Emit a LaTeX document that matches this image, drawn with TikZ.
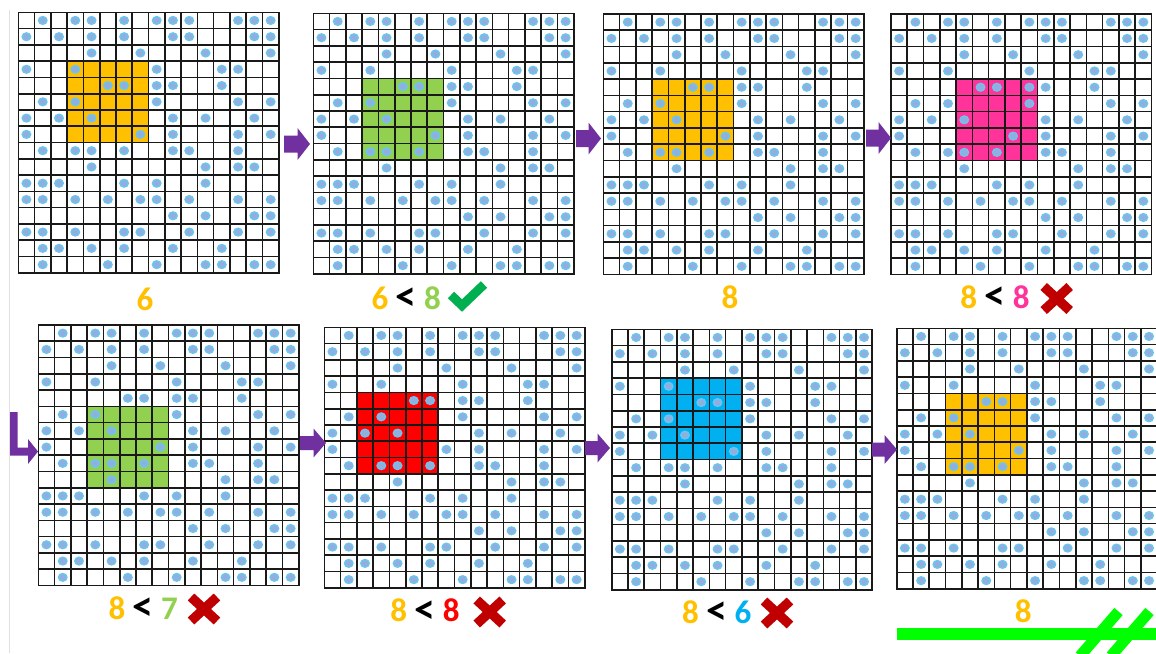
\documentclass[tikz,border=0pt]{standalone}
\usepackage{fontspec}
\setmainfont{Carlito}
\definecolor{gorange}{HTML}{FFC000}
\definecolor{glight}{HTML}{92D050}
\definecolor{gpink}{HTML}{FF3399}
\definecolor{gred}{HTML}{FF0000}
\definecolor{gblue}{HTML}{00B0F0}
\definecolor{apurple}{HTML}{7030A0}
\definecolor{okgreen}{HTML}{00B050}
\definecolor{xred}{HTML}{C00000}
\definecolor{limebar}{HTML}{00FF00}
\definecolor{dotfill}{HTML}{93AEDC}
\definecolor{dotring}{HTML}{6CC5F0}
\def\cellsz{16.28}
\def\dotlist{1/0,3/0,4/0,6/0,8/0,9/0,10/0,13/0,14/0,15/0,%
0/1,2/1,4/1,6/1,9/1,10/1,14/1,15/1,%
4/2,7/2,11/2,15/2,%
0/3,3/3,8/3,12/3,13/3,%
5/4,6/4,8/4,9/4,12/4,%
1/5,3/5,8/5,13/5,15/5,%
0/6,2/6,4/6,9/6,11/6,14/6,%
0/7,7/7,9/7,13/7,15/7,%
1/8,3/8,4/8,6/8,9/8,10/8,13/8,%
4/9,11/9,13/9,14/9,%
0/10,1/10,2/10,6/10,8/10,11/10,%
0/11,1/11,3/11,5/11,7/11,8/11,10/11,13/11,15/11,%
9/12,11/12,14/12,15/12,%
0/13,1/13,3/13,6/13,7/13,10/13,13/13,15/13,%
1/14,2/14,4/14,6/14,9/14,12/14,%
1/15,5/15,8/15,11/15,12/15,14/15,15/15}
\tikzset{
  gridline/.style={black!90, line width=1.6pt, line cap=rect},
  dotmark/.style={fill=dotfill, draw=dotring, line width=1.5pt},
  gridbox/.style={rectangle, inner sep=0pt, minimum size=260.5pt},
  lbl/.style={font=\fontsize{33}{33}\selectfont\bfseries, inner sep=0pt, anchor=base},
  okmark/.style={okgreen, line width=9pt, line join=miter},
  xm/.style={xred, line width=9.5pt},
  arrowfill/.style={fill=apurple},
}
\newcommand\lt{{\fontsize{42}{42}\selectfont\raisebox{-1.5pt}{<}}}
\newcommand\drawgrid[6]{%
\begin{scope}[shift={(#2,#3)}]
\fill[#4] ({#5*\cellsz},{#6*\cellsz}) rectangle ++({5*\cellsz},{5*\cellsz});
\foreach \k in {0,...,16}{%
  \draw[gridline] ({\k*\cellsz},0) -- ({\k*\cellsz},{16*\cellsz});
  \draw[gridline] (0,{\k*\cellsz}) -- ({16*\cellsz},{\k*\cellsz});}
\foreach \c/\r in \dotlist {%
  \filldraw[dotmark] ({(\c+0.5)*\cellsz},{(\r+0.5)*\cellsz}) ellipse [x radius=4.2pt, y radius=3.8pt];}
\node[gridbox] (#1) at ({8*\cellsz},{8*\cellsz}) {};
\end{scope}}
\newcommand\barrow[6]{%
\fill[arrowfill] (#1,{#2-#4}) -- ({#3-#6},{#2-#4}) -- ({#3-#6},{#2-#5}) -- (#3,#2) -- ({#3-#6},{#2+#5}) -- ({#3-#6},{#2+#4}) -- (#1,{#2+#4}) -- cycle;}
\newcommand\xmk[2]{%
\draw[xm] ({#1-13},{#2-12}) -- ({#1+13},{#2+12}) ({#1-13},{#2+12}) -- ({#1+13},{#2-12});}
\begin{document}
\begin{tikzpicture}[x=1pt,y=-1pt]
\useasboundingbox (0,0) rectangle (1156,653);
\fill[white] (0,0) rectangle (1156,653);
\draw[black!12, line width=0.8pt] (9,10) -- (9,653);
% grids
\drawgrid{g1}{18.3}{12.3}{gorange}{3}{3}
\drawgrid{g2}{313.3}{13.3}{glight}{3}{4}
\drawgrid{g3}{603.3}{14}{gorange}{3}{4}
\drawgrid{g4}{891}{14}{gpink}{4}{4}
\drawgrid{g5}{38.3}{325}{glight}{3}{5}
\drawgrid{g6}{324.3}{327.3}{gred}{2}{4}
\drawgrid{g7}{611.7}{329.3}{gblue}{3}{3}
\drawgrid{g8}{896.7}{328.3}{gorange}{3}{4}
% arrows
\barrow{284}{144}{310}{8.5}{16}{12.5}
\barrow{576}{138.5}{601}{8.5}{16}{12.5}
\barrow{866}{138}{891}{8.5}{16}{12.5}
\barrow{300}{443}{326}{7}{14.5}{12.5}
\barrow{585}{448}{610}{7}{14.5}{12.5}
\barrow{872}{449.5}{897}{7}{14.5}{12.5}
\fill[arrowfill] (10,412) -- (17.5,412) -- (17.5,447.5) -- (28,447.5) -- (28,439) -- (38,451.5) -- (28,464) -- (28,455.5) -- (10,455.5) -- cycle;
% labels
\node[lbl] (t1) at (145,310) {\textcolor{gorange}{6}};
\node[lbl] (t2) at (406.2,309.3) {\textcolor{gorange}{6} \lt{} \textcolor{glight}{8}};
\node[lbl] (t3) at (730,308.3) {\textcolor{gorange}{8}};
\node[lbl] (t4) at (995,308.3) {\textcolor{gorange}{8} \lt{} \textcolor{gpink}{8}};
\node[lbl] (t5) at (143.3,619.3) {\textcolor{gorange}{8} \lt{} \textcolor{glight}{7}};
\node[lbl] (t6) at (425,621.7) {\textcolor{gorange}{8} \lt{} \textcolor{gred}{8}};
\node[lbl] (t7) at (716.7,623) {\textcolor{gorange}{8} \lt{} \textcolor{gblue}{6}};
\node[lbl] (t8) at (1023.3,622.7) {\textcolor{gorange}{8}};
% marks
\draw[okmark] (451,295) -- (462,305.5) -- (484,284.5);
\xmk{1056.7}{298.5}
\xmk{204}{609}
\xmk{489.7}{612}
\xmk{777}{613}
% green bar with double slash
\draw[limebar, line width=11.7pt] (897.3,634.2) -- (1160,634.2);
\draw[limebar, line width=11pt] (1080,656) -- (1118.5,611.5);
\draw[limebar, line width=11pt] (1111,656) -- (1149.5,611.5);
\end{tikzpicture}
\end{document}
